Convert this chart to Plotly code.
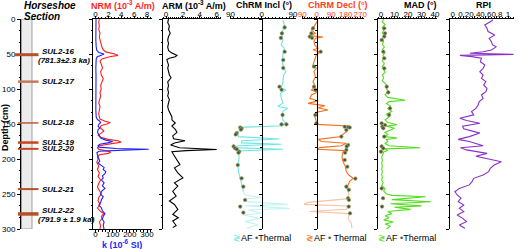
import plotly.graph_objects as go

W, H = 520, 249
FONT = "Liberation Sans, Arial, sans-serif"

# ---------------- data ----------------
depth_ticks = [0, 50, 100, 150, 200, 250, 300]

tephra_names = ["SUL2-16", "SUL2-17", "SUL2-18", "SUL2-19", "SUL2-20", "SUL2-21", "SUL2-22"]
tephra_depth = [51, 89.5, 148.5, 176.5, 185.5, 243, 278.5]
tephra_age = ["(781.3±2.3 ka)", "", "", "", "", "", "(791.9 ± 1.9 ka)"]

nrm_depth = [0, 5, 10, 15, 20, 25, 30, 35, 40, 44, 47, 50, 52, 54, 57, 60, 65, 70, 75, 80, 85, 90, 95, 100,
             105, 110, 115, 120, 125, 130, 135, 140, 143, 146, 148, 150, 152, 155, 158, 160, 163, 166, 169,
             172, 174, 176, 178, 181, 184, 186, 188, 190, 192, 194, 197, 200, 205, 210, 215, 220, 225, 230,
             235, 240, 245, 250, 255, 260, 265, 270, 275, 278, 282, 285, 290, 295, 300]
nrm_val = [0.6, 0.5, 0.6, 0.5, 0.7, 0.6, 0.7, 0.8, 1.0, 1.2, 1.6, 3.0, 3.5, 2.2, 1.0, 0.7, 0.9, 1.1, 0.8, 0.9,
           1.2, 1.0, 0.8, 0.9, 0.7, 0.8, 0.6, 0.5, 0.7, 0.6, 0.5, 0.6, 0.7, 1.5, 2.3, 1.8, 0.9, 0.7, 1.0,
           1.3, 0.9, 0.4, 0.8, 2.0, 3.5, 4.0, 2.5, 0.6, 0.3, 0.5, 1.5, 2.4, 2.0, 0.6, 0.3, 0.4, 0.2, 0.5,
           0.3, 0.6, 0.4, 0.8, 0.5, 0.3, 0.6, 0.9, 0.5, 0.4, 0.7, 0.3, 0.8, 1.3, 0.9, 1.0, 0.6, 0.8, 0.7]

k_depth = [0, 10, 20, 30, 40, 45, 48, 50, 52, 54, 57, 60, 70, 80, 90, 100, 110, 120, 130, 140, 143, 146, 148,
           150, 153, 156, 158, 162, 166, 170, 173, 175, 177, 179, 181, 183, 185, 186, 187, 189, 191, 194,
           197, 200, 203, 206, 209, 212, 215, 218, 221, 224, 227, 230, 234, 238, 242, 246, 250, 254, 258,
           262, 266, 270, 274, 278, 282, 286, 290, 295, 300]
k_val = [3, 2, 3, 2, 4, 8, 20, 50, 30, 10, 4, 3, 2, 3, 2, 3, 2, 3, 2, 4, 10, 25, 30, 20, 15, 25, 15, 12, 20,
         30, 60, 100, 70, 25, 15, 20, 120, 310, 200, 20, 8, 10, 15, 20, 25, 15, 30, 50, 45, 60, 55, 40, 45,
         35, 50, 40, 55, 35, 30, 45, 35, 30, 20, 35, 40, 55, 45, 40, 50, 45, 50]

arm_depth = [0, 5, 10, 15, 20, 25, 30, 35, 40, 45, 48, 50, 52, 54, 56, 58, 62, 66, 70, 75, 80, 84, 87, 90, 95,
             100, 105, 110, 115, 120, 125, 130, 135, 140, 144, 148.6, 153, 157.6, 162, 167, 171, 174, 177,
             180, 184, 185.5, 186.4, 188, 189.5, 194, 201, 208, 212.6, 220, 227, 234, 238.6, 246, 253, 260,
             265, 272, 279, 284, 288.6, 295, 298]
arm_val = [0.3, 0.2, 0.4, 0.3, 0.5, 0.3, 0.2, 0.3, 0.2, 0.3, 0.6, 1.0, 1.3, 1.1, 0.4, 0.1, 0.2, 0.3, 0.2, 0.3,
           0.4, 0.6, 0.4, 0.2, 0.3, 0.2, 0.3, 0.2, 0.4, 0.3, 0.2, 0.3, 0.5, 0.7, 0.7, 1.1, 0.7, 1.1, 1.3,
           0.8, 0.9, 2.25, 1.0, 0.55, 1.6, 5.1, 6.0, 2.4, 0.7, 0.9, 1.3, 1.65, 1.0, 1.4, 2.0, 1.0, 1.4, 0.8,
           1.2, 0.4, 1.0, 1.4, 0.8, 1.45, 0.8, 1.2, 0.8]

incl_depth = [1.4, 8.6, 15.7, 22.9, 30, 37, 41.9, 51, 61, 70.5, 75, 80, 89.5, 99, 101.4, 106, 113, 120, 125,
              127.6, 132, 137, 144, 149, 152.5, 154.8, 158.6, 163, 168, 171.4, 174, 177, 179, 181, 183.8,
              186, 188.6, 191.9, 199, 208.6, 218, 227.6, 237, 246.7, 251.4, 255, 257.6, 260.9, 264.8, 266.7,
              270.5, 272.8, 277.6, 280, 284.8, 289.5, 294, 299]
incl_val = [61, 65, 61, 58, 61, 56, 65, 61, 59, 63, 70, 63, 61, 56, 70, 54, 56, 61, 46, 75, 61, 59, 61, 70,
            60, -58, -62, -72, -67, 51, -58, -58, 56, -67, -81, 61, -67, -67, -65, -69, -67, -62, -58, -53,
            -48, -1, -53, -39, 75, -48, 80, -39, -1, -53, -6, -48, -10, -44]
incl_th_depth = [12, 20.5, 27, 46.7, 58.6, 70, 96.7, 101, 137, 150.5, 150.5, 155, 156.5, 158, 163, 165, 182,
                 184.6, 186, 189.5, 191, 208.6, 227.6, 239.5, 258.6, 268, 276.6]
incl_th_val = [66, 58, 55, 66, 62, 62, 51, 57, 60, 57, 71, -62, -58, -60, -72, -75, -81, -77, -72, -65, -67,
               -69, -58, -53, -48, -62, -53]

decl_depth = [1.4, 6, 10.9, 15.7, 20.5, 23.8, 25.7, 27.6, 32, 37, 41.9, 44, 47.6, 51, 58.6, 65.7, 70.5, 75,
              82.4, 89.5, 96.7, 101.4, 104.8, 108.6, 113.3, 117, 120.5, 123.8, 126.7, 130, 133.3, 137, 141.9,
              146.7, 150.5, 152.9, 156, 160.9, 164.8, 168, 171.9, 175, 177.6, 181, 183.8, 186, 188, 190.5,
              196.7, 203.8, 210.9, 218, 222.9, 227.6, 232, 239.5, 246.7, 251.4, 257, 262, 264.8, 267, 271.9,
              275, 278, 284.8, 292, 299]
decl_val = [8, -2, -17, -33, -8, -43, 39, -8, -17, -12, 8, -23, 19, -2, -12, -23, -2, -17, -8, -23, -8, -33,
            4, -33, -43, 8, -54, 50, 8, 70, -2, -17, -8, -2, 4, 195, 190, 184, 163, 153, 8, 29, 184, 153, 19,
            4, 174, 163, 157, 163, 178, 184, 199, 226, 205, 190, 195, 199, 184, -54, -79, 195, 184, -43, 205,
            195, 215, 219]
decl_th_depth = [13.3, 20.5, 25.2, 27, 46.7, 68, 96.7, 101.4, 137, 149, 154, 154.5, 155, 158.6, 168, 180,
                 182, 187, 191, 201.4, 211, 228, 239.5, 244, 256, 258.6, 268, 277.6]
decl_th_val = [-23, -33, -43, -29, 25, -17, -17, -8, -8, -2, 174, 195, 205, 184, 153, 195, 186, 184, 176, 174,
               190, 240, 184, 200, 195, 200, 199, 207]

mad_depth = [0, 4, 8, 12, 16, 20, 24, 28, 32, 36, 40, 44, 48, 52, 56, 60, 64, 68, 72, 76, 80, 84, 88, 92, 96,
             100, 104, 108, 112, 116, 118, 121, 124, 128, 132, 136, 140, 144, 148, 151, 153, 156, 159, 162,
             165, 168, 170, 172, 175, 178, 181, 184, 185.5, 188, 190, 194, 198, 202, 206, 210, 214, 218, 222,
             226, 230, 234, 238, 242, 246, 250, 252, 254, 258, 261, 264, 267, 269, 272, 275, 278, 281, 284,
             287, 290, 293, 296, 300]
mad_val = [2, 1, 3, 1, 2, 1, 3, 1, 2, 1, 2.5, 1, 3, 1.5, 2, 1, 2.5, 1, 2, 3, 1, 2, 1, 3, 5, 4, 6, 3, 5, 18, 6,
           4, 7, 5, 8, 4, 6, 3, 5, 12, 4, 10, 6, 3, 5, 3, 12, 4, 5, 3, 6, 29, 3, 5, 2, 1, 0.5, 1, 0.5, 1, 0.5,
           1, 0.5, 1, 0.5, 1.5, 0.5, 3, 2, 4, 8, 33, 8, 37, 7, 30, 10, 22, 5, 8, 3, 6, 2, 9, 3, 7, 4]
mad_th_depth = [13.3, 20.5, 25, 30, 46.7, 56, 70.5, 96.7, 104.8, 127.6, 137, 149, 151.4, 153.8, 156, 168, 182,
                184.8, 189.5, 242, 256, 268]
mad_th_val = [2.4, 3, 2.4, 0.5, 1.7, 2.4, 2.4, 4.2, 5.4, 6.7, 6, 0.5, 3, 1, 1.7, 2.4, 0.5, 1.7, 0, 0.5, 1.5,
              0.8]

rpi_depth = [1.4, 8.6, 13.3, 18, 22.9, 27.6, 32.4, 37, 39.5, 44.3, 46.7, 49, 50.5, 51.9, 53.8, 56, 61, 65.7,
             70.5, 75.2, 80, 84.8, 89.5, 94.3, 99, 103.8, 108.6, 113.3, 118, 122.9, 127.6, 132.4, 137, 141.9,
             145, 149, 153, 157, 163, 168, 172, 175, 181, 184, 187, 192, 196, 204, 208.6, 213.3, 218, 222.9,
             227.6, 232.4, 237, 242, 246.7, 251.4, 256, 260.9, 265.7, 270.5, 275.2, 280, 284.8, 289.5, 294.3,
             299]
rpi_val = [0.73, 0.58, 0.62, 0.64, 0.76, 0.66, 0.70, 0.72, 0.79, 0.70, 0.55, 0.31, 1.1, 0.13, 0.35, 0.52,
           0.50, 0.58, 0.55, 0.49, 0.55, 0.52, 0.60, 0.56, 0.62, 0.60, 0.52, 0.55, 0.48, 0.46, 0.42, 0.34,
           0.38, 0.13, 0.25, 0.49, 0.18, 0.2, 0.49, 0.3, 0.1, 0.3, 0.55, 0.14, 0.25, 0.62, 0.42, 0.88, 0.75,
           0.68, 0.65, 0.55, 0.38, 0.35, 0.30, 0.12, 0.04, 0.08, 0.15, 0.10, 0.20, 0.12, 0.20, 0.08, 0.18,
           0.25, 0.12, 0.22]

# ---------------- styles ----------------
PALE_FROM = 248
C_NRM, C_K = "#ff1f1f", "#1f1fff"
C_INCL, C_INCL_P = "#6fe6e6", "#c4f3f3"
C_DECL, C_DECL_P = "#f2711f", "#f8c4a4"
C_MAD, C_RPI = "#55dd22", "#8a2fc6"
TH_FILL = "#3f5a48"
TH_MARK = dict(size=3.6, color=TH_FILL, line=dict(color="#b8a85a", width=0.6))
tephra_width = [3, 2.5, 1.5, 2.5, 2, 2, 3.5]
tephra_color = ["#b5502a", "#c47a5c", "#c25a30", "#c8461e", "#c8461e", "#b5502a", "#b5502a"]

Y0, Y1 = 19, 229  # pixel rows of depth 0 and 300
YDOM = [1 - Y1 / H, 1 - Y0 / H]


def px(x):
    return x / W


def rng(L, R, p0, v0, p1, v1):
    s = (v1 - v0) / (p1 - p0)
    return [v0 + (L - p0) * s, v0 + (R - p0) * s]


def split(d, v, cut):
    n = len([a for a in d if a <= cut])
    return (d[:n], v[:n]), (d[n - 1:], v[n - 1:])


fig = go.Figure()


def line(x, y, xa, ya, color, width=1.1):
    fig.add_trace(go.Scatter(x=x, y=y, xaxis=xa, yaxis=ya, mode="lines",
                             line=dict(color=color, width=width), hoverinfo="skip", showlegend=False))


def pts(x, y, xa, ya):
    fig.add_trace(go.Scatter(x=x, y=y, xaxis=xa, yaxis=ya, mode="markers",
                             marker=TH_MARK, hoverinfo="skip", showlegend=False))


# NRM & k
line(nrm_val, nrm_depth, "x2", "y2", C_NRM)
line(k_val, k_depth, "x3", "y2", C_K)
# ARM
line(arm_val, arm_depth, "x4", "y4", "black")
# Incl
(a_d, a_v), (b_d, b_v) = split(incl_depth, incl_val, PALE_FROM)
line(b_v, b_d, "x5", "y5", C_INCL_P)
line(a_v, a_d, "x5", "y5", C_INCL)
pts(incl_th_val, incl_th_depth, "x5", "y5")
# Decl
(a_d, a_v), (b_d, b_v) = split(decl_depth, decl_val, PALE_FROM)
line(b_v, b_d, "x6", "y6", C_DECL_P)
line(a_v, a_d, "x6", "y6", C_DECL)
pts(decl_th_val, decl_th_depth, "x6", "y6")
# MAD
line(mad_val, mad_depth, "x7", "y7", C_MAD)
pts(mad_th_val, mad_th_depth, "x7", "y7")
# RPI
line(rpi_val, rpi_depth, "x8", "y8", C_RPI)

tickfont = dict(family=FONT, size=8, color="black")


def yax(anchor=None, position=None, labels=False):
    d = dict(domain=YDOM, range=[300, 0], showgrid=False, zeroline=False, showline=True,
             linecolor="black", linewidth=1, ticks="outside", ticklen=3, tickcolor="black",
             tickvals=depth_ticks, showticklabels=labels, tickfont=tickfont, automargin=False,
             minor=dict(dtick=50 / 3, ticks="outside", ticklen=1.5, tickcolor="black"))
    if position is not None:
        d.update(anchor="free", position=position)
    else:
        d.update(anchor=anchor)
    return d


def xax(L, R, r, tv, tt, minor, anchor, side="top", color="black", standoff=-5):
    return dict(domain=[px(L), px(R)], range=r, side=side, anchor=anchor, showgrid=False,
                zeroline=False, showline=True, linecolor="black", linewidth=1, ticks="outside",
                ticklen=2.5, tickcolor="black", tickvals=tv, ticktext=tt, tickangle=0,
                ticklabelstandoff=standoff,
                automargin=False, tickfont=dict(family=FONT, size=8, color=color),
                minor=dict(dtick=minor, ticks="outside", ticklen=1.5, tickcolor="black"))


layout = dict(
    width=W, height=H, margin=dict(l=0, r=0, t=0, b=0, autoexpand=False),
    paper_bgcolor="white", plot_bgcolor="rgba(0,0,0,0)", showlegend=False,
    xaxis=dict(domain=[px(14), px(40)], range=[14, 40], visible=False, anchor="y", automargin=False),
    yaxis=yax(position=px(20), labels=True),
    xaxis2=xax(93, 152, rng(93, 152, 95.5, 0, 147, 8), [0, 2, 4, 6, 8], ["0", "2", "4", "6", "8"], 0.5, "y2"),
    yaxis2=yax(anchor="x2"),
    xaxis3=dict(xax(93, 152, rng(93, 152, 95.5, 0, 147, 300), [0, 100, 200, 300],
                    ["0", "100", "200", "300"], 20, "y2", side="bottom", standoff=-5), overlaying="x2"),
    xaxis4=xax(163, 221, rng(163, 221, 166, 0, 216.7, 6), [0, 2, 4, 6], ["0", "2", "4", "6"], 0.25, "y4"),
    yaxis4=yax(anchor="x4"),
    xaxis5=xax(230, 296, rng(230, 296, 230.5, -90, 293, 90), [-90, 0, 90], ["90", "0", "90"], 10, "y5"),
    yaxis5=yax(position=px(261.7)),
    xaxis6=xax(302, 364, rng(302, 364, 316.7, 0, 360.2, 270), [-90, 0, 90, 180, 270],
               ["90", "0", "90", "180", "270"], 15, "y6", color="#ff4020"),
    yaxis6=yax(position=px(316.7)),
    xaxis7=xax(378, 437, rng(378, 437, 381, 0, 435, 40), [0, 10, 20, 30, 40],
               ["0", "10", "20", "30", "40"], 2, "y7"),
    yaxis7=yax(anchor="x7"),
    xaxis8=xax(450, 514, rng(450, 514, 452.7, 0, 508, 1), [0, 0.2, 0.4, 0.6, 0.8, 1],
               ["0", "0.2", "0.4", "0.6", "0.8", "1"], 0.05, "y8"),
    yaxis8=yax(anchor="x8"),
)

# lithology column and tephra layers
shapes = [dict(type="rect", xref="x", yref="y", x0=21.5, x1=32, y0=0, y1=300,
               fillcolor="#ececec", line=dict(color="#8a8a8a", width=0.8), layer="below")]
for i, d in enumerate(tephra_depth):
    x0 = 15 if i == 0 else 18
    shapes.append(dict(type="line", xref="x", yref="y", x0=x0, x1=38.5, y0=d, y1=d,
                       line=dict(color=tephra_color[i], width=tephra_width[i])))
layout["shapes"] = shapes

ann = []


def A(text, xp, yp, size=9, color="black", xanchor="center", angle=0):
    ann.append(dict(text=text, x=px(xp), y=1 - yp / H, xref="paper", yref="paper", showarrow=False,
                    xanchor=xanchor, yanchor="middle", textangle=angle,
                    font=dict(family=FONT, size=size, color=color)))


A("<b><i>Horseshoe</i></b>", 22, 5, size=10, xanchor="left")
A("<b><i>Section</i></b>", 22, 17, size=10, xanchor="left")
A("<b>Depth (cm)</b>", 5, 128, size=9, angle=-90)
A("<b>NRM (10<sup>-3</sup> A/m)</b>", 123, 5, color=C_NRM)
A("<b>ARM (10<sup>-3</sup> A/m)</b>", 194, 5)
A("<b>ChRM Incl (°)</b>", 264, 5)
A("<b>ChRM Decl (°)</b>", 338, 5, color="#ff4020")
A("<b>MAD (°)</b>", 420, 5)
A("<b>RPI</b>", 483, 5)
A("<b>k (10<sup>-6</sup> SI)</b>", 122, 244, color="#1f1fff")
A("<span style='color:%s'>≷</span>AF <span style='color:%s'>•</span>Thermal" % (C_INCL, TH_FILL), 231, 238,
  xanchor="left")
A("<span style='color:%s'>≷</span>AF <span style='color:%s'>•</span> Thermal" % (C_DECL, TH_FILL), 304, 238,
  xanchor="left")
A("<span style='color:%s'>≷</span>AF <span style='color:%s'>•</span>Thermal" % (C_MAD, TH_FILL), 376, 238,
  xanchor="left")

for i, d in enumerate(tephra_depth):
    ann.append(dict(text="<b><i>%s</i></b>" % tephra_names[i], x=px(40), y=d, xref="paper", yref="y",
                    showarrow=False, xanchor="left", yanchor="middle", yshift=3 if tephra_age[i] else 0,
                    font=dict(family=FONT, size=8, color="black")))
    if tephra_age[i]:
        ann.append(dict(text="<b><i>%s</i></b>" % tephra_age[i], x=px(36), y=d, xref="paper", yref="y",
                        showarrow=False, xanchor="left", yanchor="middle", yshift=-6,
                        font=dict(family=FONT, size=8, color="black")))
layout["annotations"] = ann

fig.update_layout(**layout)
fig.write_html("out.html", config={"displayModeBar": False},
               post_script="document.body.style.margin='0';document.body.style.padding='0';")
